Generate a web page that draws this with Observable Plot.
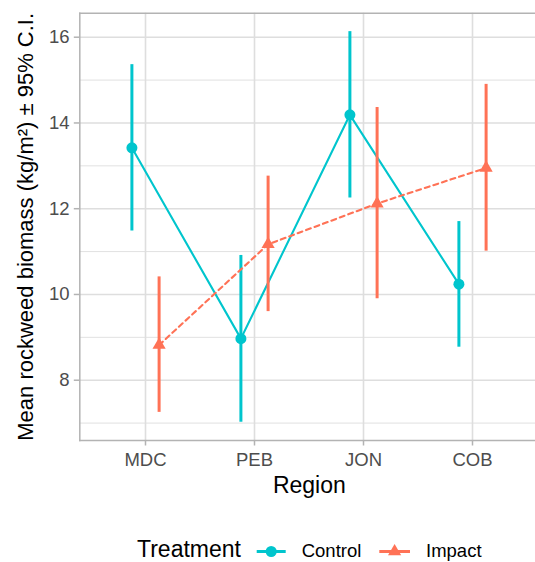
<!DOCTYPE html>
<html>
<head>
<meta charset="utf-8">
<script src="https://cdn.jsdelivr.net/npm/d3@7"></script>
<script src="https://cdn.jsdelivr.net/npm/@observablehq/plot@0.6"></script>
<style>
  html, body { margin: 0; padding: 0; background: #fff; overflow: hidden; }
  #chart { position: relative; width: 535px; height: 562px; font-family: "Liberation Sans", Arial, sans-serif; }
  #chart svg { display: block; }
</style>
</head>
<body>
<div id="chart"></div>
<script>
// ---- data ----
const regions = ["MDC", "PEB", "JON", "COB"];
const treatments = ["Control", "Impact"];
const controlMean  = [13.42, 8.97, 14.19, 10.24];
const controlLower = [11.48, 7.02, 12.25, 8.77];
const controlUpper = [15.36, 10.91, 16.13, 11.70];
const impactMean   = [8.82, 11.17, 12.12, 12.95];
const impactLower  = [7.25, 9.60, 9.90, 11.01];
const impactUpper  = [10.41, 12.76, 14.36, 14.90];
const yMajorTicks = [8, 10, 12, 14, 16];
const yMinorTicks = [7, 9, 11, 13, 15];
const colors = ["#00C5CD", "#FF7256"];
const yTitle = "Mean rockweed biomass (kg/m²) ± 95% C.I.";
const xTitle = "Region";
const legendTitle = "Treatment";

// ---- build tables ----
const control = regions.map((r, i) => ({region: r, treatment: "Control", mean: controlMean[i], lo: controlLower[i], hi: controlUpper[i]}));
const impact  = regions.map((r, i) => ({region: r, treatment: "Impact",  mean: impactMean[i],  lo: impactLower[i],  hi: impactUpper[i]}));

const FONT = "Liberation Sans, Arial, sans-serif";
const W = 535, H = 500;
const mL = 79.3, mT = 12.7, panelBottom = 440;
const dodge = 13.6;
const grid = "#DEDEDE", border = "#B3B3B3";
const circleR = 5.5, triR = 4.9;

const plot = Plot.plot({
  width: W, height: H,
  marginTop: mT, marginBottom: H - panelBottom, marginLeft: mL, marginRight: 0,
  style: {fontFamily: FONT, fontSize: "18.5px", color: "#4D4D4D", background: "#fff"},
  x: {type: "point", domain: regions, range: [mL, 538.5], padding: 0.6, axis: null, label: null},
  y: {domain: [6.594, 16.56], axis: null, label: null},
  marks: [
    Plot.ruleY(yMinorTicks, {stroke: grid, strokeWidth: 0.9}),
    Plot.ruleY(yMajorTicks, {stroke: grid, strokeWidth: 1.6}),
    Plot.ruleX(regions, {stroke: grid, strokeWidth: 1.6}),
    Plot.frame({anchor: "left", stroke: border, strokeWidth: 1.5}),
    Plot.frame({anchor: "top", stroke: border, strokeWidth: 1.5}),
    Plot.frame({anchor: "bottom", stroke: border, strokeWidth: 1.5}),
    Plot.axisY(yMajorTicks, {tickSize: 5.5, tickPadding: 4.8, stroke: border, strokeWidth: 1.5, fill: "#4D4D4D", fontSize: 18.5, label: null}),
    Plot.axisX(regions, {tickSize: 5.5, tickPadding: 6.5, stroke: border, strokeWidth: 1.5, fill: "#4D4D4D", fontSize: 18.5, label: null}),
    // control
    Plot.ruleX(control, {x: "region", y1: "lo", y2: "hi", stroke: colors[0], strokeWidth: 3, dx: -dodge}),
    Plot.line(control, {x: "region", y: "mean", stroke: colors[0], strokeWidth: 2.1, dx: -dodge}),
    Plot.dot(control, {x: "region", y: "mean", r: circleR, fill: colors[0], stroke: "none", dx: -dodge}),
    // impact
    Plot.ruleX(impact, {x: "region", y1: "lo", y2: "hi", stroke: colors[1], strokeWidth: 3, dx: dodge}),
    Plot.line(impact, {x: "region", y: "mean", stroke: colors[1], strokeWidth: 2.1, strokeDasharray: "5,4", dx: dodge}),
    Plot.dot(impact, {x: "region", y: "mean", r: triR, symbol: "triangle", fill: colors[1], stroke: "none", dx: dodge}),
    // axis titles
    Plot.text([xTitle], {frameAnchor: "bottom", textAnchor: "middle", lineAnchor: "middle", dy: 45.6, dx: 1.7, fontSize: 23, fill: "black"}),
    Plot.text([yTitle], {frameAnchor: "left", textAnchor: "middle", lineAnchor: "middle", rotate: -90, dx: -54, fontSize: 22, fill: "black"})
  ]
});

const chart = document.getElementById("chart");
chart.appendChild(plot);

// ---- legend (below the plot) ----
const LH = 562 - H;
const off = H;
const leg = d3.create("svg").attr("width", W).attr("height", LH)
  .attr("font-family", FONT);
const ky = 551.5 - off;
leg.append("text").attr("x", 137).attr("y", 557.2 - off).attr("font-size", 23).attr("fill", "black").text(legendTitle);
// Control key
leg.append("line").attr("x1", 256.7).attr("x2", 285.7).attr("y1", ky).attr("y2", ky).attr("stroke", colors[0]).attr("stroke-width", 3);
leg.append("circle").attr("cx", 271.2).attr("cy", ky).attr("r", circleR).attr("fill", colors[0]);
leg.append("text").attr("x", 301.7).attr("y", 557 - off).attr("font-size", 18.5).attr("fill", "black").text(treatments[0]);
// Impact key
leg.append("line").attr("x1", 379.3).attr("x2", 410).attr("y1", ky).attr("y2", ky).attr("stroke", colors[1]).attr("stroke-width", 3);
leg.append("path").attr("d", d3.symbol(d3.symbolTriangle, triR * triR * Math.PI)()).attr("transform", `translate(394.6,${ky})`).attr("fill", colors[1]);
leg.append("text").attr("x", 426).attr("y", 557 - off).attr("font-size", 18.5).attr("fill", "black").text(treatments[1]);
chart.appendChild(leg.node());
</script>
</body>
</html>
